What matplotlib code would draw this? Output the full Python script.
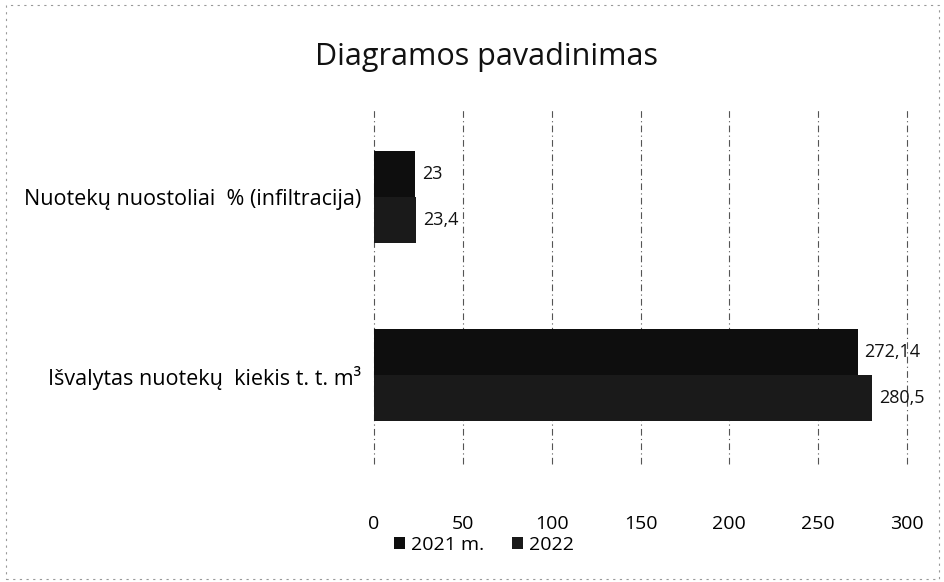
import matplotlib
matplotlib.use("Agg")
import matplotlib.pyplot as plt
import numpy as np

categories = ["Nuotekų nuostoliai  % (infiltracija)", "Išvalytas nuotekų  kiekis t. t. m³"]
series_names = ["2021 m.", "2022"]
values_2021 = [23, 272.14]
values_2022 = [23.4, 280.5]
labels_2021 = ["23", "272,14"]
labels_2022 = ["23,4", "280,5"]
xticks = [0, 50, 100, 150, 200, 250, 300]

plt.rcParams['font.family'] = ['Open Sans', 'DejaVu Sans']

fig = plt.figure(figsize=(9.45, 5.82), dpi=100)
ax = fig.add_axes([374/945, 1-464/582, (907-374)/945, (464-108)/582])

y = np.arange(len(categories))
h = 0.26
ax.barh(y - h/2, values_2021, height=h, color="#0e0e0e", label=series_names[0], zorder=3)
ax.barh(y + h/2, values_2022, height=h, color="#1a1a1a", label=series_names[1], zorder=3)

for yi, v, t in zip(y, values_2021, labels_2021):
    ax.text(v + 4, yi - h/2, t, va="center", ha="left", fontsize=13, color="#111")
for yi, v, t in zip(y, values_2022, labels_2022):
    ax.text(v + 4, yi + h/2, t, va="center", ha="left", fontsize=13, color="#111")

ax.set_xlim(0, 300)
ax.set_ylim(len(categories) - 0.5, -0.5)
ax.set_xticks(xticks)
ax.set_xticklabels([str(t) for t in xticks], fontsize=14)
ax.set_yticks(y)
ax.set_yticklabels(categories, fontsize=15.5)
ax.tick_params(axis="both", length=0)
ax.tick_params(axis="x", pad=37)
ax.tick_params(axis="y", pad=9)
ax.grid(axis="x", color="#555", linestyle=(0, (6, 3, 1, 3)), linewidth=0.8, zorder=0)
for gl in ax.get_xgridlines():
    gl.set_clip_on(False)
for s in ax.spines.values():
    s.set_visible(False)

fig.text(487/945, 1-57/582, "Diagramos pavadinimas", ha="center", va="center", fontsize=22, color="#111")

leg = fig.legend(loc="center", bbox_to_anchor=(484/945, 1-545/582), ncol=2, frameon=False,
                 fontsize=14, handlelength=0.6, handleheight=0.6, handletextpad=0.3, columnspacing=1.4)

# scanned-page border
fig.patches.append(plt.Rectangle((0.006, 0.006), 0.988, 0.985, transform=fig.transFigure,
                                 fill=False, edgecolor="#999", linestyle=(0, (2, 4)), linewidth=0.8))

fig.savefig("out.png", dpi=100)
